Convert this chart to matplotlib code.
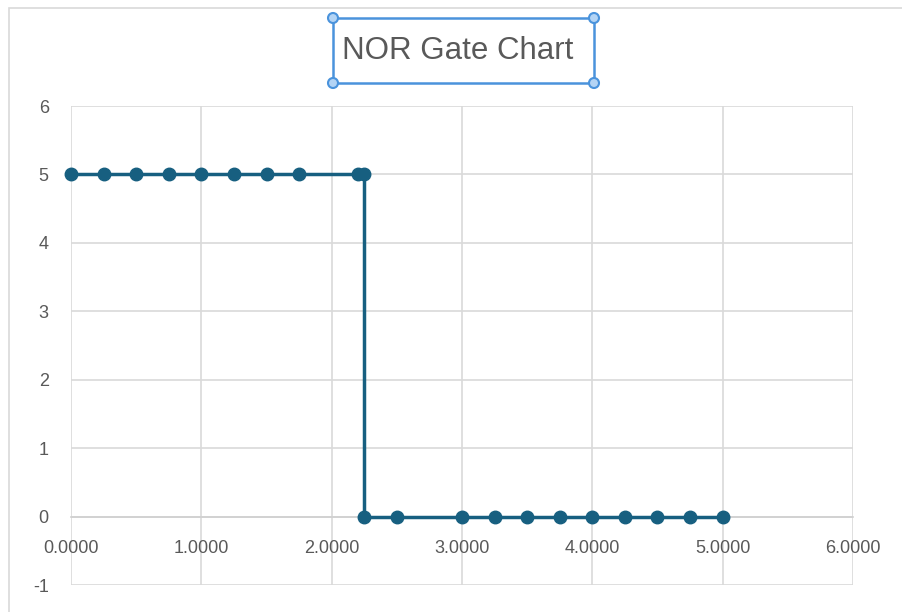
import matplotlib
matplotlib.use("Agg")
import matplotlib.pyplot as plt
from matplotlib.patches import Rectangle, Circle
from matplotlib import font_manager

names = {f.name for f in font_manager.fontManager.ttflist}
FAM = ['Liberation Sans Narrow', 'DejaVu Sans'] if 'Liberation Sans Narrow' in names else ['Liberation Sans', 'DejaVu Sans']
plt.rcParams['font.family'] = FAM

# data
x_vals = [0.0, 0.25, 0.5, 0.75, 1.0, 1.25, 1.5, 1.75, 2.2, 2.25,
          2.25, 2.5, 3.0, 3.25, 3.5, 3.75, 4.0, 4.25, 4.5, 4.75, 5.0]
y_vals = [5, 5, 5, 5, 5, 5, 5, 5, 5, 5,
          0, 0, 0, 0, 0, 0, 0, 0, 0, 0, 0]
x_ticks = [0, 1, 2, 3, 4, 5, 6]
y_ticks = [-1, 0, 1, 2, 3, 4, 5, 6]
title = "NOR Gate Chart"

W, H = 902, 612
fig = plt.figure(figsize=(W / 100, H / 100), dpi=100)
fig.patch.set_facecolor('white')

def fx(px):
    return px / W

def fy(py):
    return 1 - py / H

# outer chart border
fig.add_artist(Rectangle((fx(9), fy(640)), fx(1000), 632 / H, transform=fig.transFigure,
                         fill=False, edgecolor='#d9d9d9', linewidth=1.2))

left, right, top, bottom = 71, 853, 106, 585
ax = fig.add_axes([fx(left), fy(bottom), (right - left) / W, (bottom - top) / H])
ax.set_facecolor('white')
ax.set_xlim(0, 6)
ax.set_ylim(-1, 6)
ax.set_xticks(x_ticks)
ax.set_yticks(y_ticks)
ax.set_xticklabels([f"{v:.4f}" for v in x_ticks])
ax.set_yticklabels([str(v) for v in y_ticks])
ax.grid(True, color='#d9d9d9', linewidth=1.2)
ax.set_axisbelow(True)
for s in ['top', 'right', 'left']:
    ax.spines[s].set_visible(False)
ax.spines['bottom'].set_position(('data', 0))
ax.spines['bottom'].set_color('#d0d0d0')
ax.spines['bottom'].set_linewidth(1.2)
ax.tick_params(axis='both', length=0, colors='#595959', labelsize=13)
ax.tick_params(axis='x', pad=17)
ax.tick_params(axis='y', pad=16)

ax.plot(x_vals, y_vals, color='#175f80', linewidth=2.5, marker='o', markersize=9,
        markerfacecolor='#175f80', markeredgecolor='#175f80', zorder=3, clip_on=False)

# title with selection box
bx0, by0, bx1, by1 = 333, 18, 594, 83
fig.add_artist(Rectangle((fx(bx0), fy(by1)), (bx1 - bx0) / W, (by1 - by0) / H,
                         transform=fig.transFigure, fill=False, edgecolor='#4a93dc', linewidth=1.8))
for (cx, cy) in [(bx0, by0), (bx1, by0), (bx0, by1), (bx1, by1)]:
    fig.add_artist(Circle((cx, H - cy), 5, transform=None, facecolor='#b3d4f5',
                          edgecolor='#4a93dc', linewidth=1.5))
fig.text(fx(458), fy(51), title, ha='center', va='center', fontsize=22.5, color='#595959')

fig.savefig('out.png', dpi=100)
